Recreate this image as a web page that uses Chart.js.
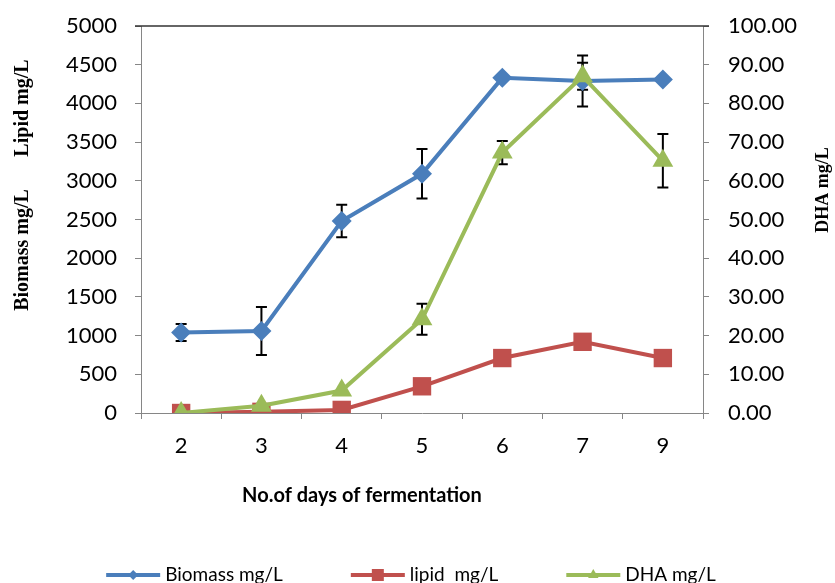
<!DOCTYPE html>
<html>
<head>
<meta charset="utf-8">
<script src="https://cdn.jsdelivr.net/npm/chart.js@4.4.1/dist/chart.umd.min.js"></script>
<style>
  html, body { margin: 0; padding: 0; background: #fff; }
</style>
</head>
<body>
<canvas id="fermChart" width="835" height="583"></canvas>
<script>
// fermentation day on the x axis
const days = ["2", "3", "4", "5", "6", "7", "9"];

// left axis series (mg/L)
const biomass = [1040, 1060, 2480, 3090, 4330, 4290, 4310];
const biomassErr = [110, 310, 210, 320, 0, 330, 0];
const lipid = [0, 15, 40, 345, 710, 920, 710];

// right axis series (mg/L)
const dha = [0, 1.9, 5.8, 24.2, 67.3, 87, 65.2];
const dhaErr = [0, 0, 0, 4, 3, 3.5, 6.9];

const BLUE = "#4A7EBB";
const RED = "#C0504D";
const GREEN = "#9BBB59";
const AXIS = "#868686";

const tickFont = { family: "Lato", size: 22 };

/* ---------- error bars, under the markers ---------- */
const errorBars = {
  id: "errorBars",
  beforeDatasetsDraw(chart) {
    const { ctx, scales } = chart;
    const sets = [
      { vals: biomass, err: biomassErr, axis: scales.y },
      { vals: dha, err: dhaErr, axis: scales.y1 }
    ];
    ctx.save();
    ctx.strokeStyle = "#000";
    ctx.lineWidth = 2;
    sets.forEach(s => {
      s.vals.forEach((v, i) => {
        if (!s.err[i]) return;
        const px = scales.x.getPixelForValue(i);
        const top = s.axis.getPixelForValue(v + s.err[i]);
        const bot = s.axis.getPixelForValue(v - s.err[i]);
        ctx.beginPath();
        ctx.moveTo(px, top); ctx.lineTo(px, bot);
        ctx.moveTo(px - 5.5, top); ctx.lineTo(px + 5.5, top);
        ctx.moveTo(px - 5.5, bot); ctx.lineTo(px + 5.5, bot);
        ctx.stroke();
      });
    });
    ctx.restore();
  }
};

/* ---------- titles, top border and legend ---------- */
function marker(ctx, style, x, y, r, color) {
  ctx.fillStyle = color;
  ctx.beginPath();
  if (style === "rectRot") {
    ctx.moveTo(x, y - r); ctx.lineTo(x + r, y); ctx.lineTo(x, y + r); ctx.lineTo(x - r, y);
  } else if (style === "rect") {
    ctx.rect(x - r, y - r, 2 * r, 2 * r);
  } else {
    ctx.moveTo(x, y - r); ctx.lineTo(x + r * 0.87, y + r * 0.5); ctx.lineTo(x - r * 0.87, y + r * 0.5);
  }
  ctx.closePath();
  ctx.fill();
}

const decorations = {
  id: "decorations",
  afterDraw(chart) {
    const { ctx, chartArea } = chart;
    ctx.save();

    // top border of the plot area
    ctx.strokeStyle = "#333";
    ctx.lineWidth = 1.5;
    ctx.beginPath();
    ctx.moveTo(chartArea.left - 6, chartArea.top);
    ctx.lineTo(chartArea.right + 6, chartArea.top);
    ctx.stroke();

    ctx.fillStyle = "#000";
    ctx.textAlign = "center";
    ctx.textBaseline = "middle";

    // vertical axis titles
    ctx.save();
    ctx.translate(23, 0);
    ctx.rotate(-Math.PI / 2);
    ctx.font = "bold 20px 'Liberation Serif'";
    ctx.fillText("Biomass mg/L", -250, 0);
    ctx.fillText("Lipid mg/L", -108, 0);
    ctx.restore();

    ctx.save();
    ctx.translate(823, 190);
    ctx.rotate(-Math.PI / 2);
    ctx.font = "bold 18px 'Liberation Serif'";
    ctx.fillText("DHA mg/L", 0, 0);
    ctx.restore();

    // x axis title
    ctx.font = "bold 20px Lato";
    ctx.fillText("No.of days of fermentation", 362, 496);

    // legend
    ctx.font = "19px Lato";
    ctx.textAlign = "left";
    const items = chart.data.datasets.map(ds => ({
      text: ds.label, color: ds.borderColor, style: ds.pointStyle,
      r: ds.legendMarker
    }));
    const lineW = 54, gapText = 5, gapItem = 68;
    let total = 0;
    items.forEach((it, i) => {
      it.w = ctx.measureText(it.text).width;
      total += lineW + gapText + it.w + (i ? gapItem : 0);
    });
    let x = 411 - total / 2;
    const y = 575;
    items.forEach(it => {
      ctx.strokeStyle = it.color;
      ctx.lineWidth = 4;
      ctx.beginPath();
      ctx.moveTo(x, y); ctx.lineTo(x + lineW, y);
      ctx.stroke();
      marker(ctx, it.style, x + lineW / 2, y, it.r, it.color);
      ctx.fillStyle = "#000";
      ctx.fillText(it.text, x + lineW + gapText, y);
      x += lineW + gapText + it.w + gapItem;
    });

    ctx.restore();
  }
};

// fixed box sizes so the plot area lands where it should
function fixWidth(w) {
  return s => { s.width = w; s.paddingTop = 0; s.paddingBottom = 0; };
}

new Chart(document.getElementById("fermChart"), {
  type: "line",
  data: {
    labels: days,
    datasets: [
      {
        label: "Biomass mg/L",
        data: biomass,
        yAxisID: "y",
        borderColor: BLUE,
        backgroundColor: BLUE,
        pointStyle: "rectRot",
        pointRadius: 10,
        legendMarker: 5,
        order: 3
      },
      {
        label: "lipid  mg/L",
        data: lipid,
        yAxisID: "y",
        borderColor: RED,
        backgroundColor: RED,
        pointStyle: "rect",
        pointRadius: 13,
        legendMarker: 6,
        order: 2
      },
      {
        label: "DHA mg/L",
        data: dha,
        yAxisID: "y1",
        borderColor: GREEN,
        backgroundColor: GREEN,
        pointStyle: "triangle",
        pointRadius: 12,
        legendMarker: 6,
        order: 1
      }
    ]
  },
  options: {
    responsive: false,
    animation: false,
    layout: { padding: { top: 26, left: 0, right: 0, bottom: 0 } },
    elements: {
      line: { borderWidth: 4, tension: 0 },
      point: { borderWidth: 0, hoverRadius: 12 }
    },
    plugins: {
      legend: { display: false },
      tooltip: { enabled: false }
    },
    scales: {
      x: {
        offset: true,
        afterFit: s => { s.height = 170; s.paddingLeft = 0; s.paddingRight = 0; },
        grid: { offset: true, drawOnChartArea: false, color: AXIS, tickLength: 6 },
        border: { color: AXIS },
        ticks: { font: tickFont, color: "#000", padding: 14, maxRotation: 0 }
      },
      y: {
        position: "left",
        min: 0,
        max: 5000,
        afterFit: fixWidth(141),
        grid: { drawOnChartArea: false, color: AXIS, tickLength: 6 },
        border: { color: AXIS },
        ticks: {
          stepSize: 500, font: tickFont, color: "#000", padding: 18,
          callback: v => String(v)
        }
      },
      y1: {
        position: "right",
        min: 0,
        max: 100,
        afterFit: fixWidth(132),
        grid: { drawOnChartArea: false, color: AXIS, tickLength: 6 },
        border: { color: AXIS },
        ticks: {
          stepSize: 10, font: tickFont, color: "#000", padding: 19,
          callback: v => v.toFixed(2)
        }
      }
    }
  },
  plugins: [errorBars, decorations]
});
</script>
</body>
</html>
